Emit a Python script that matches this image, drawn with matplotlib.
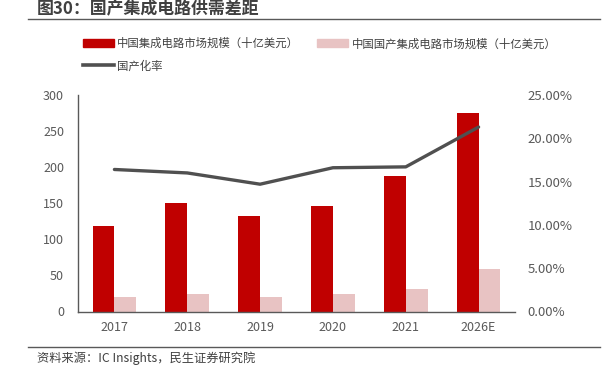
import matplotlib
matplotlib.use("Agg")
import matplotlib.pyplot as plt
from matplotlib.lines import Line2D
from matplotlib.patches import Patch
from matplotlib.ticker import FuncFormatter

plt.rcParams['font.family'] = ['Noto Sans CJK SC', 'DejaVu Sans']

categories = ['2017', '2018', '2019', '2020', '2021', '2026E']
market = [118.5, 151.0, 132.0, 146.8, 187.5, 275.0]
domestic = [19.4, 24.0, 19.4, 24.6, 31.5, 58.3]
ratio = [16.4, 16.0, 14.7, 16.6, 16.7, 21.3]

title = '图30：国产集成电路供需差距'
source = '资料来源：IC Insights，民生证券研究院'
lab_market = '中国集成电路市场规模（十亿美元）'
lab_dom = '中国国产集成电路市场规模（十亿美元）'
lab_ratio = '国产化率'

red = '#C00000'
pink = '#E8C3C3'
gray_line = '#505050'
tick_col = '#595959'

fig = plt.figure(figsize=(6.12, 3.75), dpi=100)
ax = fig.add_axes([78/612, 1-311.5/375, (515-78)/612, (311.5-95)/375])
ax2 = ax.twinx()

x = list(range(len(categories)))
w = 0.3
ax.bar([i - w/2 for i in x], market, width=w, color=red, zorder=2)
ax.bar([i + w/2 for i in x], domestic, width=w, color=pink, zorder=2)
ax2.plot(x, ratio, color=gray_line, lw=2.4, solid_capstyle='round', zorder=3)

ax.set_xlim(-0.5, len(categories) - 0.5)
ax.set_ylim(0, 300)
ax.set_yticks(range(0, 301, 50))
ax2.set_ylim(0, 25)
ax2.set_yticks([0, 5, 10, 15, 20, 25])
ax2.yaxis.set_major_formatter(FuncFormatter(lambda v, p: f'{v:.2f}%'))
ax.set_xticks(x)
ax.set_xticklabels(categories)

for a in (ax, ax2):
    for s in ['top', 'right']:
        a.spines[s].set_visible(False)
    a.tick_params(length=0, labelsize=9, colors=tick_col)
ax2.tick_params(labelsize=9.5)
ax2.spines['left'].set_visible(False)
ax2.spines['bottom'].set_visible(False)
ax.spines['left'].set_color('#595959')
ax.spines['bottom'].set_color('#595959')
ax.spines['left'].set_linewidth(1.0)
ax.spines['bottom'].set_linewidth(1.0)
ax.tick_params(axis='y', pad=10)
ax.tick_params(axis='x', pad=7)
ax2.tick_params(axis='y', pad=9)

# legend
handles1 = [Patch(color=red, label=lab_market), Patch(color=pink, label=lab_dom)]
fig.legend(handles=handles1, loc='upper left', bbox_to_anchor=(83/612, 1-38/375),
           ncol=2, frameon=False, fontsize=8.2, handlelength=2.7, handleheight=0.7,
           handletextpad=0.3, columnspacing=1.6, labelcolor='#404040', borderaxespad=0, borderpad=0)
handles2 = [Line2D([0], [0], color=gray_line, lw=2.6, label=lab_ratio)]
fig.legend(handles=handles2, loc='upper left', bbox_to_anchor=(83/612, 1-60/375),
           frameon=False, fontsize=8.2, handlelength=2.7, handletextpad=0.3,
           labelcolor='#404040', borderaxespad=0, borderpad=0)

# title and source
fig.text(37/612, 1-9/375, title, fontsize=12.2, fontweight='bold', color='#404040', va='center', ha='left')
fig.add_artist(Line2D([28/612, 600/612], [1-18.5/375, 1-18.5/375], color='#595959', lw=1.0))
fig.add_artist(Line2D([28/612, 600/612], [1-347/375, 1-347/375], color='#595959', lw=1.0))
fig.text(37/612, 1-358/375, source, fontsize=8.8, color='#404040', va='center', ha='left')

fig.savefig('out.png', dpi=100)
